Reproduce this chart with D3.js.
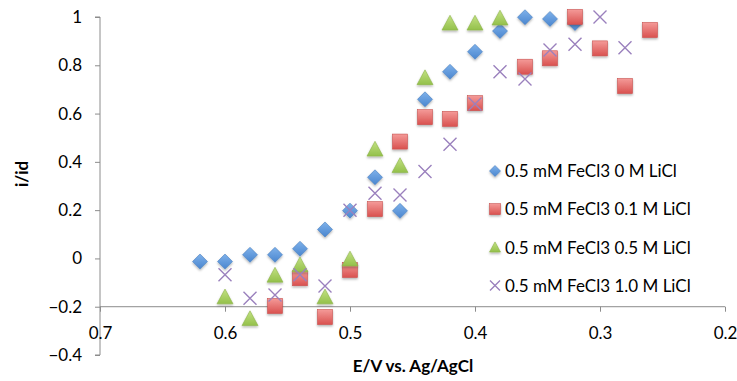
<!DOCTYPE html>
<html lang="en">
<head>
<meta charset="UTF-8">
<title>i/id vs E</title>
<script src="https://cdnjs.cloudflare.com/ajax/libs/d3/7.8.5/d3.min.js"></script>
<style>
    body { margin: 0; background: #fff; }
    svg { display: block; font-family: Lato, 'Open Sans', sans-serif; }
    .axis path, .axis line { stroke: #8c8c8c; }
    .axis text { font-size: 17px; fill: #000; }
    .legend text { font-size: 17px; fill: #000; }
    .title { font-size: 17px; font-weight: bold; fill: #000; }
</style>
</head>
<body>
<div id="chart"></div>
<script>
// potentials (V vs Ag/AgCl) and normalised current for each series
const seriesNames = [
    "0.5 mM FeCl3 0 M LiCl",
    "0.5 mM FeCl3 0.1 M LiCl",
    "0.5 mM FeCl3 0.5 M LiCl",
    "0.5 mM FeCl3 1.0 M LiCl"
];

const e0 = [0.62, 0.60, 0.58, 0.56, 0.54, 0.52, 0.50, 0.48, 0.46, 0.44, 0.42, 0.40, 0.38, 0.36, 0.34, 0.32];
const i0 = [-0.013, -0.013, 0.015, 0.015, 0.04, 0.12, 0.198, 0.336, 0.197, 0.659, 0.773, 0.856, 0.942, 0.999, 0.992, 0.975];

const e1 = [0.56, 0.54, 0.52, 0.50, 0.48, 0.46, 0.44, 0.42, 0.40, 0.36, 0.34, 0.32, 0.30, 0.28, 0.26];
const i1 = [-0.197, -0.082, -0.243, -0.048, 0.204, 0.484, 0.585, 0.578, 0.643, 0.794, 0.829, 1.0, 0.87, 0.714, 0.946];

const e2 = [0.60, 0.58, 0.56, 0.54, 0.52, 0.50, 0.48, 0.46, 0.44, 0.42, 0.40, 0.38];
const i2 = [-0.16, -0.25, -0.07, -0.027, -0.16, -0.003, 0.452, 0.384, 0.748, 0.974, 0.974, 0.995];

const e3 = [0.60, 0.58, 0.56, 0.54, 0.52, 0.50, 0.48, 0.46, 0.44, 0.42, 0.40, 0.38, 0.36, 0.34, 0.32, 0.30, 0.28];
const i3 = [-0.068, -0.165, -0.151, -0.068, -0.114, 0.2, 0.27, 0.263, 0.36, 0.473, 0.64, 0.773, 0.743, 0.863, 0.887, 1.0, 0.873];

const xTicks = [0.7, 0.6, 0.5, 0.4, 0.3, 0.2];
const yTicks = [-0.4, -0.2, 0, 0.2, 0.4, 0.6, 0.8, 1];

const W = 737, H = 381;
const svg = d3.select("#chart").append("svg")
    .attr("width", W)
    .attr("height", H);

const x = d3.scaleLinear().domain([0.7, 0.2]).range([100, 725]);
const y = d3.scaleLinear().domain([-0.4, 1]).range([355, 17]);

// gradients + soft shadow like the spreadsheet markers
const defs = svg.append("defs");
const grads = [
    ["gBlue", "#7eb1ea", "#4a86cf"],
    ["gRed", "#f49a98", "#d9514f"],
    ["gGreen", "#c3e183", "#93c04a"]
];
grads.forEach(([id, c1, c2]) => {
    const g = defs.append("linearGradient").attr("id", id)
        .attr("x1", 0).attr("y1", 0).attr("x2", 0).attr("y2", 1);
    g.append("stop").attr("offset", "0%").attr("stop-color", c1);
    g.append("stop").attr("offset", "100%").attr("stop-color", c2);
});
const f = defs.append("filter").attr("id", "shadow")
    .attr("x", "-30%").attr("y", "-30%").attr("width", "160%").attr("height", "170%");
f.append("feDropShadow").attr("dx", 0).attr("dy", 1.5).attr("stdDeviation", 1)
    .attr("flood-color", "#000").attr("flood-opacity", 0.3);

// axes
svg.append("g")
    .attr("class", "axis")
    .attr("transform", `translate(100,0)`)
    .call(d3.axisLeft(y).tickValues(yTicks).tickSize(5).tickPadding(13)
        .tickFormat(d => d === 0 ? "0" : d3.format("")(+d.toFixed(1))))
    .call(g => g.select(".domain").attr("d", `M-5,${y(1)}H0V${y(-0.4)}H-5`));

svg.append("g")
    .attr("class", "axis")
    .attr("transform", `translate(0,${y(-0.2)})`)
    .call(d3.axisBottom(x).tickValues(xTicks).tickSize(5).tickPadding(15)
        .tickFormat(d3.format(".1f")))
    .call(g => g.select(".domain").attr("d", `M${x(0.7)},0H${x(0.2)}`));

svg.selectAll(".axis text").attr("font-family", "Lato, 'Open Sans', sans-serif");

// axis titles
svg.append("text").attr("class", "title")
    .attr("transform", `translate(28,${y(0.35)}) rotate(-90)`)
    .attr("text-anchor", "middle")
    .text("i/id");

svg.append("text").attr("class", "title")
    .attr("x", 413).attr("y", 372)
    .attr("text-anchor", "middle")
    .text("E/V vs. Ag/AgCl");

// marker drawers
const diamond = (sel, s) => sel.append("path")
    .attr("d", `M0,${-s}L${s},0L0,${s}L${-s},0Z`)
    .attr("fill", "url(#gBlue)").attr("stroke", "#4a7fc0").attr("stroke-width", 0.6)
    .attr("filter", "url(#shadow)");
const square = (sel, s) => sel.append("rect")
    .attr("x", -s).attr("y", -s).attr("width", 2 * s).attr("height", 2 * s)
    .attr("fill", "url(#gRed)").attr("stroke", "#c9514f").attr("stroke-width", 0.6)
    .attr("filter", "url(#shadow)");
const triangle = (sel, s) => sel.append("path")
    .attr("d", `M0,${-s}L${s},${s * 0.85}L${-s},${s * 0.85}Z`)
    .attr("fill", "url(#gGreen)").attr("stroke", "#8db34a").attr("stroke-width", 0.6)
    .attr("filter", "url(#shadow)");
const cross = (sel, s) => sel.append("path")
    .attr("d", `M${-s},${-s}L${s},${s}M${-s},${s}L${s},${-s}`)
    .attr("fill", "none").attr("stroke", "#9a80bd").attr("stroke-width", 1.4);

const series = [
    { e: e0, i: i0, draw: diamond, size: 7.5 },
    { e: e1, i: i1, draw: square, size: 7.5 },
    { e: e2, i: i2, draw: triangle, size: 8 },
    { e: e3, i: i3, draw: cross, size: 6.5 }
];

series.forEach(s => {
    const pts = s.e.map((v, k) => ({ e: v, i: s.i[k] }));
    svg.append("g").selectAll("g")
        .data(pts)
        .join("g")
        .attr("transform", d => `translate(${x(d.e)},${y(d.i)})`)
        .each(function() { s.draw(d3.select(this), s.size); });
});

// legend
const legend = svg.append("g").attr("class", "legend");
seriesNames.forEach((name, k) => {
    const row = legend.append("g").attr("transform", `translate(495,${171 + k * 38.2})`);
    series[k].draw(row.append("g"), k === 3 ? 5 : 5.5);
    row.append("text").attr("x", 10).attr("dy", "0.36em").text(name);
});
</script>
</body>
</html>
